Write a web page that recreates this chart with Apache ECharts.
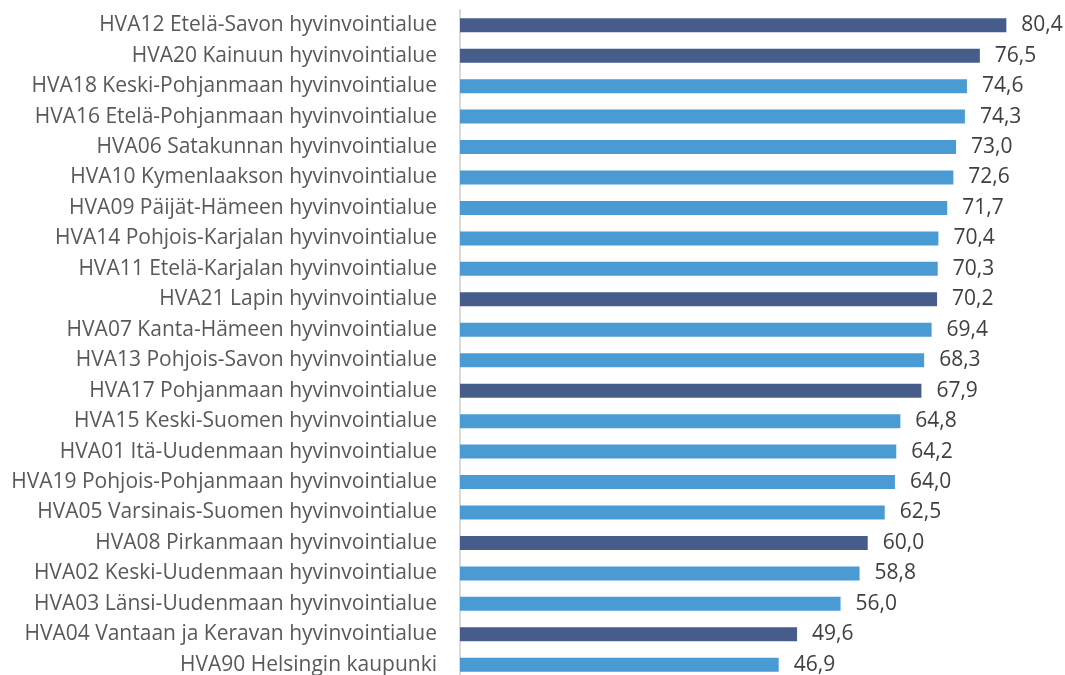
<!DOCTYPE html>
<html>
<head>
<meta charset="utf-8">
<script src="https://cdn.jsdelivr.net/npm/echarts@6/dist/echarts.min.js"></script>
<style>
  html, body { margin: 0; padding: 0; background: #fff; }
  #chart { width: 1065px; height: 675px; }
</style>
</head>
<body>
<div id="chart"></div>
<script>
// alueet ylhäältä alas
const regions = [
  'HVA12 Etelä-Savon hyvinvointialue',
  'HVA20 Kainuun hyvinvointialue',
  'HVA18 Keski-Pohjanmaan hyvinvointialue',
  'HVA16 Etelä-Pohjanmaan hyvinvointialue',
  'HVA06 Satakunnan hyvinvointialue',
  'HVA10 Kymenlaakson hyvinvointialue',
  'HVA09 Päijät-Hämeen hyvinvointialue',
  'HVA14 Pohjois-Karjalan hyvinvointialue',
  'HVA11 Etelä-Karjalan hyvinvointialue',
  'HVA21 Lapin hyvinvointialue',
  'HVA07 Kanta-Hämeen hyvinvointialue',
  'HVA13 Pohjois-Savon hyvinvointialue',
  'HVA17 Pohjanmaan hyvinvointialue',
  'HVA15 Keski-Suomen hyvinvointialue',
  'HVA01 Itä-Uudenmaan hyvinvointialue',
  'HVA19 Pohjois-Pohjanmaan hyvinvointialue',
  'HVA05 Varsinais-Suomen hyvinvointialue',
  'HVA08 Pirkanmaan hyvinvointialue',
  'HVA02 Keski-Uudenmaan hyvinvointialue',
  'HVA03 Länsi-Uudenmaan hyvinvointialue',
  'HVA04 Vantaan ja Keravan hyvinvointialue',
  'HVA90 Helsingin kaupunki'
]
const values = [80.4, 76.5, 74.6, 74.3, 73.0, 72.6, 71.7, 70.4, 70.3, 70.2, 69.4, 68.3, 67.9, 64.8, 64.2, 64.0, 62.5, 60.0, 58.8, 56.0, 49.6, 46.9]
// korostetut alueet (tumma väri)
const highlighted = ['HVA12', 'HVA20', 'HVA21', 'HVA17', 'HVA08', 'HVA04']

const darkColor = '#465d8b'
const lightColor = '#4a9bd4'

const barData = values.map((v, i) => {
    const code = regions[i].split(' ')[0]
    return {
        value: v,
        itemStyle: { color: highlighted.includes(code) ? darkColor : lightColor }
    }
})

const chart = echarts.init(document.getElementById('chart'))
chart.setOption({
    animation: false,
    textStyle: { fontFamily: 'Open Sans' },
    grid: { left: 460, top: 10, width: 598, height: 670, outerBoundsMode: 'none', containLabel: false },
    xAxis: {
        type: 'value',
        min: 0,
        max: 88,
        show: false
    },
    yAxis: {
        type: 'category',
        inverse: true,
        data: regions,
        axisLine: { show: true, lineStyle: { color: '#d9d9d9', width: 2 } },
        axisTick: { show: false },
        axisLabel: { color: '#595959', fontSize: 21, margin: 23, fontFamily: 'Open Sans' }
    },
    series: [
        {
            type: 'bar',
            data: barData,
            barWidth: 14,
            label: {
                show: true,
                position: 'right',
                distance: 15,
                color: '#404040',
                fontSize: 21,
                fontFamily: 'Open Sans',
                formatter: p => p.value.toFixed(1).replace('.', ',')
            }
        }
    ]
})
</script>
</body>
</html>
